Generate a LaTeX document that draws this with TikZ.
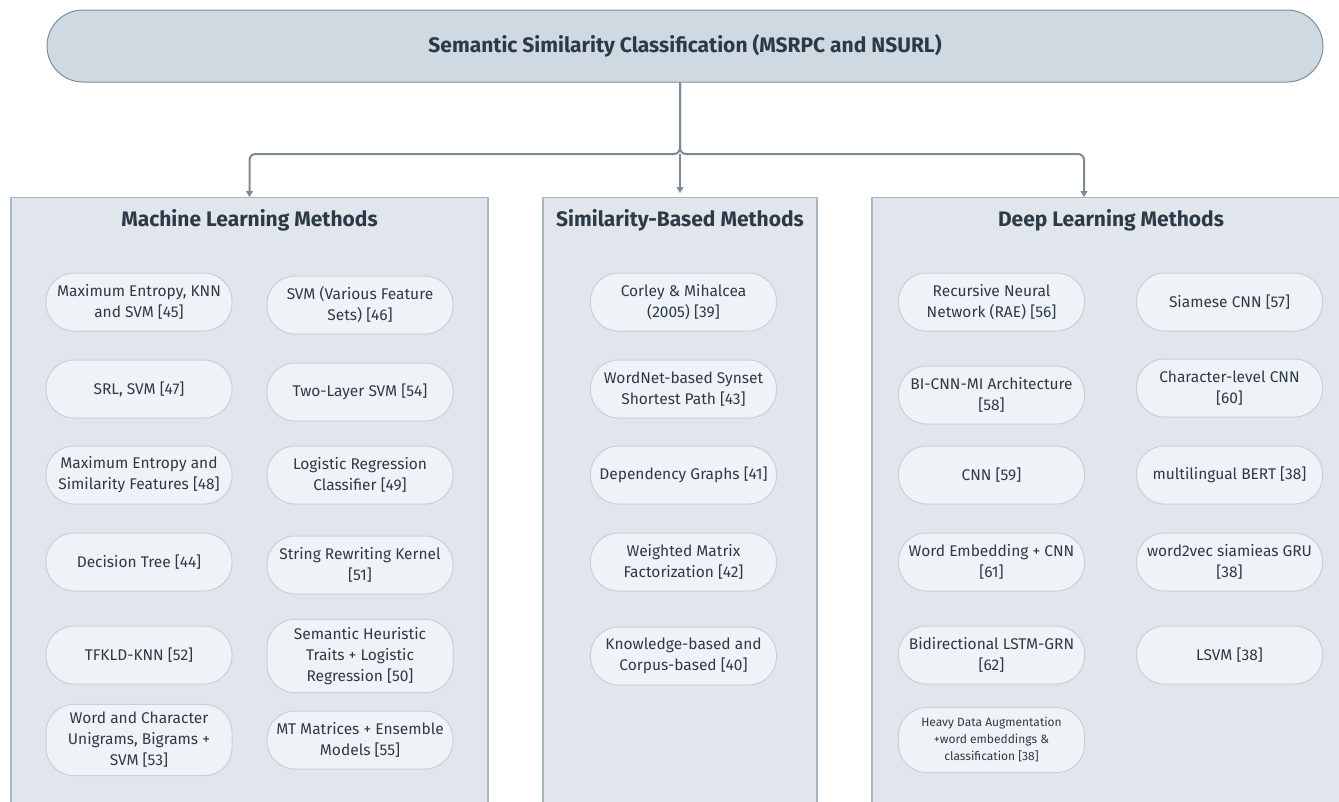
\documentclass[tikz,border=0pt]{standalone}
\usepackage{fontspec}
\setmainfont{Fira Sans}
\usetikzlibrary{arrows.meta,positioning}
\definecolor{rootfill}{HTML}{CFD9E1}
\definecolor{rootline}{HTML}{7F8D9B}
\definecolor{panelfill}{HTML}{E1E6ED}
\definecolor{panelline}{HTML}{A9B7C5}
\definecolor{boxfill}{HTML}{EFF3F7}
\definecolor{boxline}{HTML}{C6D0DA}
\definecolor{linkcol}{HTML}{7D8B99}
\definecolor{ink}{HTML}{2C3A47}

\begin{document}
\begin{tikzpicture}[x=1pt, y=-1pt,
    root/.style={draw=rootline, fill=rootfill, rounded corners=36pt, line width=1pt, minimum width=1276pt, minimum height=72pt, text=ink, font=\bfseries\fontsize{21}{25}\selectfont},
    panel/.style={draw=panelline, fill=panelfill, line width=1.2pt, minimum height=620pt, anchor=north},
    head/.style={text=ink, font=\bfseries\fontsize{21}{25}\selectfont},
    box/.style={draw=boxline, fill=boxfill, rounded corners=28pt, line width=1pt, minimum width=186pt, minimum height=58pt, inner xsep=1pt, inner ysep=8pt, align=center, text=ink, font=\fontsize{15.5}{21}\selectfont},
    smallbox/.style={box, minimum height=65pt, inner ysep=5pt, font=\fontsize{12}{17}\selectfont},
    arrow/.style={-{Triangle[width=7pt,length=6pt]}, draw=linkcol, line width=2pt, rounded corners=6pt}
]
\useasboundingbox (0,0) rectangle (1339,801);
\clip (0,0) rectangle (1339,801);

% top node
\node[root] (root) at (685,46) {Semantic Similarity Classification (MSRPC and NSURL)};

% three groups
\node[panel, minimum width=477pt] (ml) at (249.5,197) {};
\node[panel, minimum width=274pt] (sim) at (680,197) {};
\node[panel, minimum width=478pt] (dl) at (1111,197) {};
\node[head, below=9pt of ml.north] (mlhead) {Machine Learning Methods};
\node[head, below=9pt of sim.north] (simhead) {Similarity-Based Methods};
\node[head, below=9pt of dl.north] (dlhead) {Deep Learning Methods};

% connectors
\coordinate (fork) at (680,154);
\draw[arrow] (root.south -| sim.north) -- (fork) -| (ml.north);
\draw[arrow] (root.south -| sim.north) -- (fork) -| ([xshift=-27pt]dl.north);
\draw[arrow] (fork) -- ([yshift=4pt]sim.north);

% machine learning methods
\node[box] (ml1) at (139,302) {Maximum Entropy, KNN\\and SVM [45]};
\node[box] (ml2) at (139,389) {SRL, SVM [47]};
\node[box] (ml3) at (139,475) {Maximum Entropy and\\Similarity Features [48]};
\node[box] (ml4) at (139,562) {Decision Tree [44]};
\node[box] (ml5) at (139,655) {TFKLD-KNN [52]};
\node[box] (ml6) at (139,740) {Word and Character\\Unigrams, Bigrams +\\SVM [53]};
\node[box] (ml7) at (360,305) {SVM (Various Feature\\Sets) [46]};
\node[box] (ml8) at (360,392) {Two-Layer SVM [54]};
\node[box] (ml9) at (360,475) {Logistic Regression\\Classifier [49]};
\node[box] (ml10) at (360,565) {String Rewriting Kernel\\{}[51]};
\node[box] (ml11) at (360,656) {Semantic Heuristic\\Traits + Logistic\\Regression [50]};
\node[box] (ml12) at (360,740) {MT Matrices + Ensemble\\Models [55]};

% similarity-based methods
\node[box] (sim1) at (683.5,302) {Corley \& Mihalcea\\(2005) [39]};
\node[box] (sim2) at (683.5,389) {WordNet-based Synset\\Shortest Path [43]};
\node[box] (sim3) at (683.5,475) {Dependency Graphs [41]};
\node[box] (sim4) at (683.5,562) {Weighted Matrix\\Factorization [42]};
\node[box] (sim5) at (683.5,656) {Knowledge-based and\\Corpus-based [40]};

% deep learning methods
\node[box] (dl1) at (991.5,302) {Recursive Neural\\Network (RAE) [56]};
\node[box] (dl2) at (991.5,395) {BI-CNN-MI Architecture\\{}[58]};
\node[box] (dl3) at (991.5,475) {CNN [59]};
\node[box] (dl4) at (991.5,562) {Word Embedding + CNN\\{}[61]};
\node[box] (dl5) at (991.5,655) {Bidirectional LSTM-GRN\\{}[62]};
\node[smallbox] (dl6) at (991.5,740) {Heavy Data Augmentation\\+word embeddings \&\\classification [38]};
\node[box] (dl7) at (1229.5,302) {Siamese CNN [57]};
\node[box] (dl8) at (1229.5,388) {Character-level CNN\\{}[60]};
\node[box] (dl9) at (1229.5,475) {multilingual BERT [38]};
\node[box] (dl10) at (1229.5,562) {word2vec siamieas GRU\\{}[38]};
\node[box] (dl11) at (1229.5,655) {LSVM [38]};
\end{tikzpicture}
\end{document}
